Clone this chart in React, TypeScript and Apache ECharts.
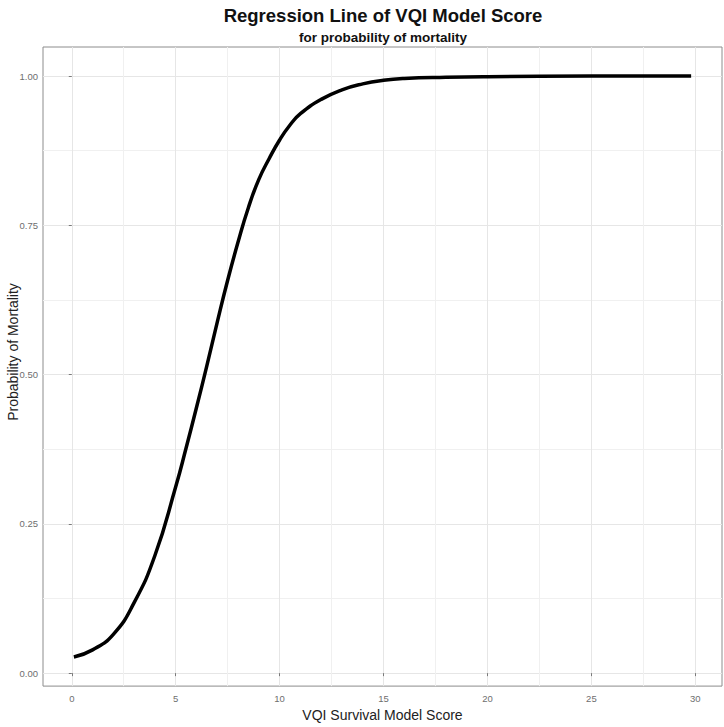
import React, { useEffect, useRef } from "react";
import * as echarts from "echarts";

const titleText = "Regression Line of VQI Model Score";
const subtitleText = "for probability of mortality";
const xAxisTitle = "VQI Survival Model Score";
const yAxisTitle = "Probability of Mortality";

const xTicks = [0, 5, 10, 15, 20, 25, 30];
const xMinorTicks = [2.5, 7.5, 12.5, 17.5, 22.5, 27.5];
const yTicks = [0, 0.25, 0.5, 0.75, 1.0];
const yMinorTicks = [0.125, 0.375, 0.625, 0.875];

const scoreValues = [0.1, 1, 2, 3, 4, 5, 5.5, 6, 6.5, 7, 7.5, 8, 8.5, 9, 9.5, 10, 10.5, 11, 12, 13, 14, 15, 16, 18, 20, 25, 29.8];
const probValues = [0.027, 0.039, 0.065, 0.118, 0.197, 0.312, 0.377, 0.445, 0.515, 0.588, 0.658, 0.722, 0.78, 0.827, 0.862, 0.893, 0.918, 0.937, 0.961, 0.977, 0.987, 0.993, 0.996, 0.998, 0.999, 1.0, 1.0];

const FONT = "'Liberation Sans', Arial, Helvetica, sans-serif";

export default function App() {
  const ref = useRef<HTMLDivElement>(null);
  useEffect(() => {
    if (!ref.current) return;
    const chart = echarts.init(ref.current, undefined, { renderer: "svg" });
    const xMin = -1.385, xMax = 31.285, yMin = -0.0217, yMax = 1.0487;
    const minorLine = { show: true, lineStyle: { color: "#f0f0f0", width: 1 } };
    const hidden = { show: false };
    chart.setOption({
      animation: false,
      backgroundColor: "#ffffff",
      textStyle: { fontFamily: FONT },
      grid: { left: 43, right: 2, top: 47, bottom: 34, show: true, borderColor: "#8c8c8c", borderWidth: 1, backgroundColor: "transparent" },
      xAxis: [
        {
          type: "value", min: xMin, max: xMax, position: "bottom",
          axisLine: hidden,
          axisTick: { show: true, length: 3, lineStyle: { color: "#7a7a7a" }, customValues: xTicks },
          axisLabel: { customValues: xTicks, formatter: (v: number) => String(v), color: "#6e6e6e", fontSize: 9.5, margin: 7, fontFamily: FONT },
          splitLine: { show: true, lineStyle: { color: "#e6e6e6", width: 1 } },
          name: xAxisTitle, nameLocation: "middle", nameGap: 16,
          nameTextStyle: { fontSize: 14, color: "#222", fontFamily: FONT },
        },
        {
          type: "value", min: xMin, max: xMax, position: "bottom",
          axisLine: hidden, axisLabel: { show: false, customValues: xMinorTicks },
          axisTick: { show: false, customValues: xMinorTicks },
          splitLine: minorLine,
        },
      ],
      yAxis: [
        {
          type: "value", min: yMin, max: yMax,
          axisLine: hidden,
          axisTick: { show: true, length: 3, lineStyle: { color: "#7a7a7a" }, customValues: yTicks },
          axisLabel: { customValues: yTicks, formatter: (v: number) => v.toFixed(2), color: "#6e6e6e", fontSize: 9.5, margin: 5, fontFamily: FONT },
          splitLine: { show: true, lineStyle: { color: "#e6e6e6", width: 1 } },
        },
        {
          type: "value", min: yMin, max: yMax, position: "left",
          axisLine: hidden, axisLabel: { show: false, customValues: yMinorTicks },
          axisTick: { show: false, customValues: yMinorTicks },
          splitLine: minorLine,
        },
      ],
      graphic: [
        {
          type: "text", x: 383, y: 6,
          style: { text: titleText, font: `bold 18.5px ${FONT}`, fill: "#111", align: "center", textAlign: "center", verticalAlign: "top", textVerticalAlign: "top" },
        },
        {
          type: "text", x: 383, y: 30,
          style: { text: subtitleText, font: `bold 13.5px ${FONT}`, fill: "#111", align: "center", textAlign: "center", verticalAlign: "top", textVerticalAlign: "top" },
        },
        {
          type: "text", x: 13, y: 352, rotation: Math.PI / 2,
          style: { text: yAxisTitle, font: `14px ${FONT}`, fill: "#222", align: "center", textAlign: "center", verticalAlign: "middle", textVerticalAlign: "middle" },
        },
      ],
      series: [
        {
          type: "line",
          xAxisIndex: 0, yAxisIndex: 0,
          data: scoreValues.map((x, i) => [x, probValues[i]]),
          smooth: 0.5,
          showSymbol: false, symbol: "none",
          lineStyle: { color: "#000", width: 3.5 },
          z: 5,
        },
      ],
    });
    return () => chart.dispose();
  }, []);
  return <div ref={ref} style={{ position: "absolute", left: 0, top: 0, width: 724, height: 727 }} />;
}
